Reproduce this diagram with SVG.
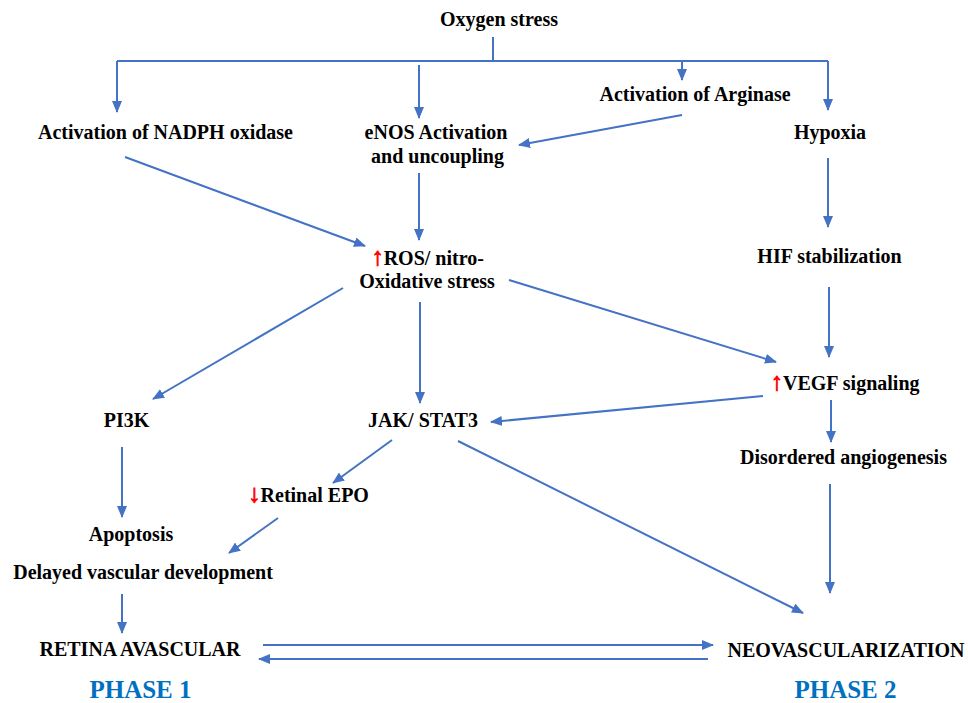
<svg xmlns="http://www.w3.org/2000/svg" width="968" height="703" viewBox="0 0 968 703">
<defs>
<style>
.t{font-family:"Liberation Serif","Times New Roman",serif;font-weight:bold;font-size:20px;fill:#000;text-anchor:middle}
.ph{font-family:"Liberation Serif","Times New Roman",serif;font-weight:bold;font-size:25px;fill:#0070C0;text-anchor:middle}
.r{fill:#FF0000;font-weight:bold;font-size:25px;stroke:#FF0000;stroke-width:0.8}
.c{stroke:#4472C4;stroke-width:2;fill:none}
.a{marker-end:url(#ah)}
</style>
<marker id="ah" markerWidth="12" markerHeight="10" refX="11" refY="5" orient="auto" markerUnits="userSpaceOnUse">
<path d="M0,0 L12,5 L0,10 Z" fill="#4472C4"/>
</marker>
</defs>
<rect width="968" height="703" fill="#fff"/>
<g id="connectors">
<path class="c" d="M493,37 V61"/>
<path class="c" d="M117,61 H828"/>
<path class="c a" d="M117,61 V112"/>
<path class="c a" d="M419,65 V118"/>
<path class="c a" d="M682,61 V80"/>
<path class="c a" d="M828,61 V110"/>
<path class="c a" d="M682,115 L519,145"/>
<path class="c a" d="M125,157 L365,246"/>
<path class="c a" d="M419,173 V240"/>
<path class="c a" d="M828,158 V227"/>
<path class="c a" d="M829,287 V357"/>
<path class="c a" d="M343,288 L153,399"/>
<path class="c a" d="M420,302 V403"/>
<path class="c a" d="M509,280 L776,362"/>
<path class="c a" d="M763,396 L491,422"/>
<path class="c a" d="M831,400 V442"/>
<path class="c a" d="M122,447 V517"/>
<path class="c a" d="M392,440 L333,483"/>
<path class="c a" d="M278,518 L229,553"/>
<path class="c a" d="M122,594 V633"/>
<path class="c a" d="M458,441 L803,613"/>
<path class="c a" d="M830,484 V593"/>
<path class="c a" d="M263,645 H713"/>
<path class="c a" d="M708,659 H259"/>
</g>
<g id="n-oxygen"><text class="t" x="499" y="26">Oxygen stress</text></g>
<g id="n-nadph"><text class="t" x="165.5" y="139">Activation of NADPH oxidase</text></g>
<g id="n-enos"><text class="t" x="436" y="139">eNOS Activation</text><text class="t" x="437.5" y="163">and uncoupling</text></g>
<g id="n-arginase"><text class="t" x="695" y="101">Activation of Arginase</text></g>
<g id="n-hypoxia"><text class="t" x="830" y="139">Hypoxia</text></g>
<g id="n-hif"><text class="t" x="829.5" y="263">HIF stabilization</text></g>
<g id="n-ros"><text class="t" x="427.5" y="265"><tspan class="r">↑</tspan>ROS/ nitro-</text><text class="t" x="427" y="288">Oxidative stress</text></g>
<g id="n-pi3k"><text class="t" x="126.5" y="427">PI3K</text></g>
<g id="n-jak"><text class="t" x="423" y="427">JAK/ STAT3</text></g>
<g id="n-vegf"><text class="t" x="845" y="390"><tspan class="r">↑</tspan>VEGF signaling</text></g>
<g id="n-disordered"><text class="t" x="843.5" y="464">Disordered angiogenesis</text></g>
<g id="n-epo"><text class="t" x="308.5" y="502"><tspan class="r">↓</tspan>Retinal EPO</text></g>
<g id="n-apoptosis"><text class="t" x="131" y="541">Apoptosis</text></g>
<g id="n-delayed"><text class="t" x="143" y="579">Delayed vascular development</text></g>
<g id="n-retina"><text class="t" x="140" y="656">RETINA AVASCULAR</text></g>
<g id="n-neo"><text class="t" x="846" y="657">NEOVASCULARIZATION</text></g>
<g id="phase1"><text class="ph" x="140.5" y="698">PHASE 1</text></g>
<g id="phase2"><text class="ph" x="845.5" y="698">PHASE 2</text></g>
</svg>
